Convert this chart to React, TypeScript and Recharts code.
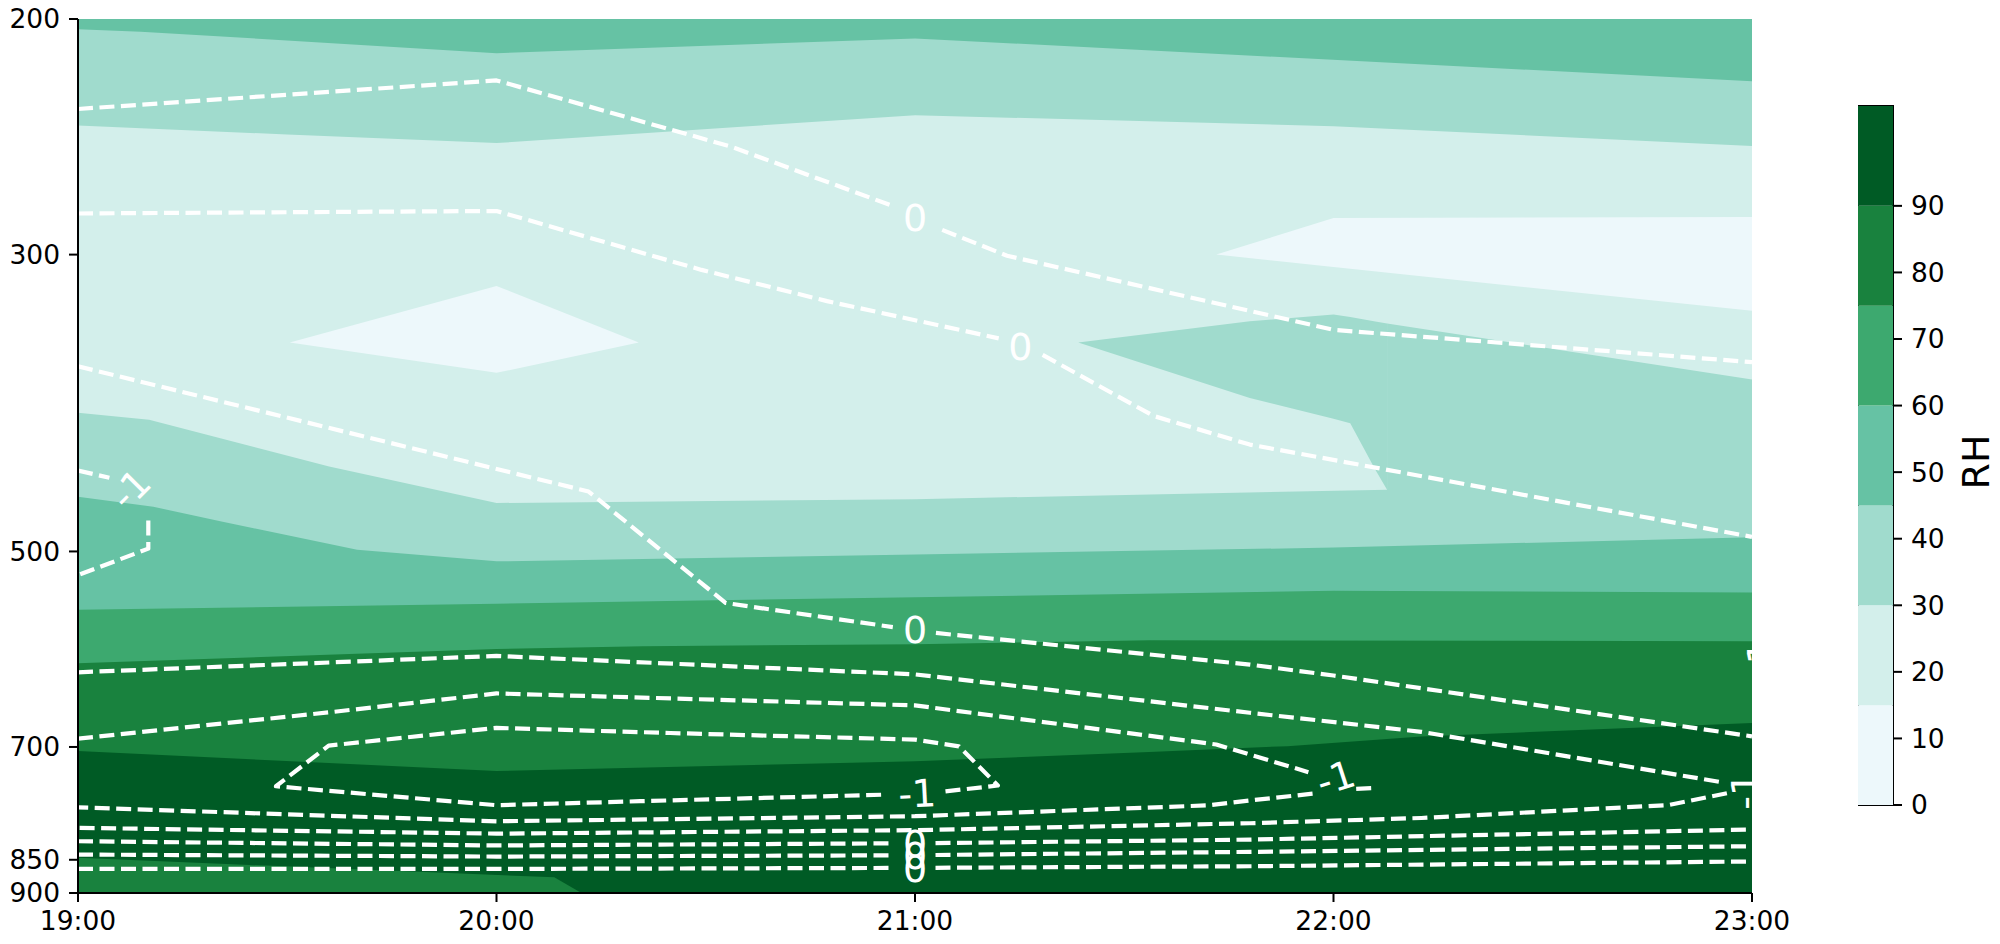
import React from 'react';
import {
  ComposedChart,
  Area,
  Line,
  Scatter,
  XAxis,
  YAxis,
  BarChart,
  Bar,
  ReferenceArea,
} from 'recharts';

const FONT = 'DejaVu Sans';

// ---------- axes ----------
const HOURS = [19, 20, 21, 22, 23];
const PRESSURE_TICKS = [200, 300, 500, 700, 850, 900];
const P_TOP = 200;
const P_BOTTOM = 900;

// ---------- colour scale (RH) ----------
const RH_LEVELS = [0, 15, 30, 45, 60, 75, 90, 105];
const RH_TICKS = [0, 10, 20, 30, 40, 50, 60, 70, 80, 90];
const RH_COLORS = ['#edf8fb', '#d3efeb', '#a0dbcd', '#66c2a4', '#3da96f', '#19823e', '#005b25'];

// ---------- filled-contour boundaries: [hour, hPa] ----------
const FULL_COLUMN = [[19, P_TOP, P_BOTTOM], [23, P_TOP, P_BOTTOM]];
const EDGE_90 = [[19, 705], [20, 729.5], [21, 717.5], [21.56, 706], [21.89, 699], [22.21, 687.5], [23, 671.6]];
const POCKET_75_90 = [[19, 847.2, 900], [20.138, 876, 900], [20.203, 900, 900]];
const EDGE_75 = [[19, 606], [20, 591.5], [20.35, 588.5], [21, 586.5], [21.56, 582.6], [23, 583.5]];
const EDGE_60 = [[19, 552.7], [20, 547.1], [21, 541], [22, 535], [23, 536.5]];
const EDGE_45 = [[19, 455], [19.18, 463], [19.34, 474.7], [19.667, 498.5], [20, 508.6], [21, 502.6], [22, 496.7], [23, 488]];
const EDGE_30 = [[19, 393.8], [19.17, 398.6], [19.6, 432], [20, 460], [21, 457], [22.128, 449.6], [22.128, 337.7], [23, 372]];
const TONGUE_30_45 = [[21.39, 349, 349], [21.8, 336.5, 384], [22.0, 332.5, 398], [22.04, 334, 401], [22.1, 336.6, 434.4], [22.128, 337.7, 449.6]];
const EDGE_30_UPPER = [[19, 240.2], [19.5, 244], [20, 247.6], [21, 236], [22, 240.5], [23, 248.9]];
const EDGE_45_UPPER = [[19, 203.6], [19.15, 204.4], [20, 212.1], [21, 206.8], [23, 222.6]];
const DRY_POCKET_A = [[19.506, 349, 349], [20, 316.6, 367.7], [20.34, 349, 349]];
const DRY_POCKET_B = [[21.72, 300, 300], [22, 281.7, 306.5], [23, 281.2, 330.5]];

// ---------- dashed contour lines: [hour, hPa] ----------
const ISO_A1 = [[19, 233.5], [20, 222.3], [20.56, 249.1], [20.948, 276]];
const ISO_A2 = [[21.065, 287.5], [21.22, 300.6], [22, 341.5], [23, 361]];
const ISO_B1 = [[19, 279.5], [20, 278.3], [20.49, 308], [20.79, 325], [21.2, 346.5]];
const ISO_B2 = [[21.305, 356.5], [21.57, 396], [21.8, 416], [23, 487.6]];
const ISO_C1 = [[19, 363.6], [20.22, 451], [20.548, 546.4], [20.947, 569.5]];
const ISO_C2 = [[21.05, 575.3], [21.8, 607.5], [22, 619], [23, 687.3]];
const ISO_D1 = [[19, 435], [19.075, 440.5]];
const ISO_D2 = [[19.168, 474], [19.168, 497.6], [19, 520.8]];
const ISO_E_TOP = [[19, 615.6], [20, 598.5], [21, 617.8], [21.8, 660], [22.21, 682], [22.93, 744]];
const ISO_E_BOTTOM = [[22.94, 758], [22.8, 773.6], [22.21, 791], [21.8, 798.2], [21, 807.8], [20, 812.6], [19, 804.6]];
const ISO_F_TOP = [[19, 690], [19.6, 659.5], [20, 638.4], [21, 651.7], [21.72, 697], [21.94, 731]];
const ISO_F_TIP = [[22.09, 751.5], [22.045, 752.5]];
const ISO_F_BOTTOM = [[21.95, 758.6], [21.8, 767.5], [21.7, 774], [21, 788.6], [20, 795.5], [19, 776.7]];
const ISO_G = [[20.919, 760], [20.343, 768.5], [20, 773.8], [19.473, 749], [19.599, 698.4], [20, 677.4], [20.415, 683.4], [21, 691.2], [21.105, 699.2], [21.198, 748], [21.068, 755.9]];
const ISO_H1 = [[19, 823.3], [20, 829.3], [20.952, 826.3]];
const ISO_H2 = [[21.049, 826], [21.8, 821], [23, 806.9]];
const ISO_I1 = [[19, 842.4], [20, 845.3], [20.952, 843.5]];
const ISO_I2 = [[21.049, 843], [21.8, 838.5], [23, 830.4]];
const ISO_J1 = [[19, 863.5], [20, 863.5], [20.952, 862]];
const ISO_J2 = [[21.049, 861.8], [21.8, 859.5], [23, 852.5]];

// ---------- contour labels ----------
const LABEL_TEXT = ['0', '0', '0', '-1', '-1', '-1', '0', '0', '0', '-1', '-1'];
const LABEL_HOUR = [21.0, 21.252, 21.0, 19.125, 21.005, 22.005, 21.0, 21.0, 21.0, 22.982, 23.019];
const LABEL_HPA = [281.5, 351, 572, 449, 758, 738, 826.2, 843.3, 862, 755, 602];
const LABEL_ANGLE = [0, 0, 0, -45, -3, -18, 0, 0, 0, -90, -90];

// ---------- derived tables ----------
const above = (edge: number[][]) => edge.map(([t, p]) => ({ t, v: [P_TOP, p] }));
const between = (poly: number[][]) => poly.map(([t, a, b]) => ({ t, v: [a, b] }));
const asLine = (pts: number[][]) => pts.map(([t, p]) => ({ t, p }));

const FILL_LAYERS = [
  { key: 'full', data: between(FULL_COLUMN), band: 6 },
  { key: 'e90', data: above(EDGE_90), band: 5 },
  { key: 'pocket', data: between(POCKET_75_90), band: 5 },
  { key: 'e75', data: above(EDGE_75), band: 4 },
  { key: 'e60', data: above(EDGE_60), band: 3 },
  { key: 'e45', data: above(EDGE_45), band: 2 },
  { key: 'e30', data: above(EDGE_30), band: 1 },
  { key: 'tongue', data: between(TONGUE_30_45), band: 2 },
  { key: 'e30u', data: above(EDGE_30_UPPER), band: 2 },
  { key: 'e45u', data: above(EDGE_45_UPPER), band: 3 },
  { key: 'dryA', data: between(DRY_POCKET_A), band: 0 },
  { key: 'dryB', data: between(DRY_POCKET_B), band: 0 },
];

const CONTOURS = [
  ISO_A1, ISO_A2, ISO_B1, ISO_B2, ISO_C1, ISO_C2, ISO_D1, ISO_D2,
  ISO_E_TOP, ISO_E_BOTTOM, ISO_F_TOP, ISO_F_TIP, ISO_F_BOTTOM, ISO_G,
  ISO_H1, ISO_H2, ISO_I1, ISO_I2, ISO_J1, ISO_J2,
].map(asLine);

const LABEL_DATA = LABEL_TEXT.map((text, i) => ({
  t: LABEL_HOUR[i],
  p: LABEL_HPA[i],
  text,
  angle: LABEL_ANGLE[i],
}));

const CB_ROW: Record<string, any> = { name: 'RH' };
RH_LEVELS.slice(1).forEach((lv, i) => {
  CB_ROW[`b${i}`] = lv - RH_LEVELS[i];
});

const ContourLabel = (props: any) => {
  const { cx, cy, payload } = props;
  if (cx == null || cy == null) return <g />;
  return (
    <text
      x={cx}
      y={cy}
      dy="0.36em"
      transform={`rotate(${payload.angle} ${cx} ${cy})`}
      textAnchor="middle"
      fill="#ffffff"
      fontSize={38}
      fontFamily={FONT}
    >
      {payload.text}
    </text>
  );
};

const tickStyle = { fill: '#000', fontSize: 26.5, fontFamily: FONT };
const blackLine = { stroke: '#000', strokeWidth: 2 };

export default function App() {
  return (
    <div
      style={{
        position: 'absolute',
        left: 0,
        top: 0,
        width: 2000,
        height: 944,
        overflow: 'hidden',
        background: '#fff',
      }}
    >
      <div style={{ position: 'absolute', left: 0, top: 0 }}>
        <ComposedChart width={1810} height={944} margin={{ top: 19, right: 58, bottom: 0, left: 0 }}>
          {FILL_LAYERS.map((layer) => (
            <Area
              key={layer.key}
              data={layer.data}
              dataKey="v"
              type="linear"
              stroke="none"
              fill={RH_COLORS[layer.band]}
              fillOpacity={1}
              dot={false}
              activeDot={false}
              isAnimationActive={false}
            />
          ))}
          {CONTOURS.map((seg, i) => (
            <Line
              key={`c${i}`}
              data={seg}
              dataKey="p"
              type="linear"
              stroke="#ffffff"
              strokeWidth={4.2}
              strokeDasharray="15 6.5"
              strokeLinejoin="round"
              dot={false}
              activeDot={false}
              isAnimationActive={false}
            />
          ))}
          <Scatter data={LABEL_DATA} shape={(p: any) => <ContourLabel {...p} />} isAnimationActive={false} />
          <XAxis
            dataKey="t"
            type="number"
            domain={[19, 23]}
            ticks={HOURS}
            interval={0}
            height={51}
            allowDataOverflow
            tickFormatter={(h: number) => `${h}:00`}
            tickSize={9}
            tickMargin={9}
            tick={tickStyle}
            tickLine={blackLine}
            axisLine={blackLine}
          />
          <YAxis
            dataKey="p"
            type="number"
            scale="log"
            domain={[P_TOP, P_BOTTOM]}
            reversed
            allowDataOverflow
            ticks={PRESSURE_TICKS}
            interval={0}
            width={78}
            tickSize={9}
            tickMargin={9}
            tick={tickStyle}
            tickLine={blackLine}
            axisLine={blackLine}
          />
          <XAxis
            xAxisId="top"
            orientation="top"
            type="number"
            domain={[19, 23]}
            height={0}
            tick={false}
            tickLine={false}
            axisLine={blackLine}
          />
          <YAxis
            yAxisId="right"
            orientation="right"
            type="number"
            domain={[0, 1]}
            width={0}
            tick={false}
            tickLine={false}
            axisLine={blackLine}
          />
        </ComposedChart>
      </div>

      <div style={{ position: 'absolute', left: 1858, top: 0 }}>
        <BarChart
          width={110}
          height={944}
          data={[CB_ROW]}
          margin={{ top: 106, right: 0, bottom: 139, left: 0 }}
          barCategoryGap={0}
          barGap={0}
        >
          <XAxis dataKey="name" hide />
          <YAxis
            orientation="right"
            type="number"
            domain={[RH_LEVELS[0], RH_LEVELS[RH_LEVELS.length - 1]]}
            allowDataOverflow
            ticks={RH_TICKS}
            interval={0}
            width={75}
            tickSize={9}
            tickMargin={9}
            tick={tickStyle}
            tickLine={blackLine}
            axisLine={false}
          />
          {RH_COLORS.map((c, i) => (
            <Bar key={i} dataKey={`b${i}`} stackId="rh" fill={c} isAnimationActive={false} />
          ))}
          <ReferenceArea
            y1={RH_LEVELS[0]}
            y2={RH_LEVELS[RH_LEVELS.length - 1]}
            fill="none"
            fillOpacity={0}
            stroke="#000"
            strokeWidth={2}
            ifOverflow="visible"
          />
        </BarChart>
      </div>

      <svg style={{ position: 'absolute', left: 1940, top: 390 }} width={60} height={150}>
        <text
          x={35}
          y={72}
          dy="0.36em"
          transform="rotate(-90 35 72)"
          textAnchor="middle"
          fontSize={38}
          fontFamily={FONT}
          fill="#000"
        >
          RH
        </text>
      </svg>
    </div>
  );
}
